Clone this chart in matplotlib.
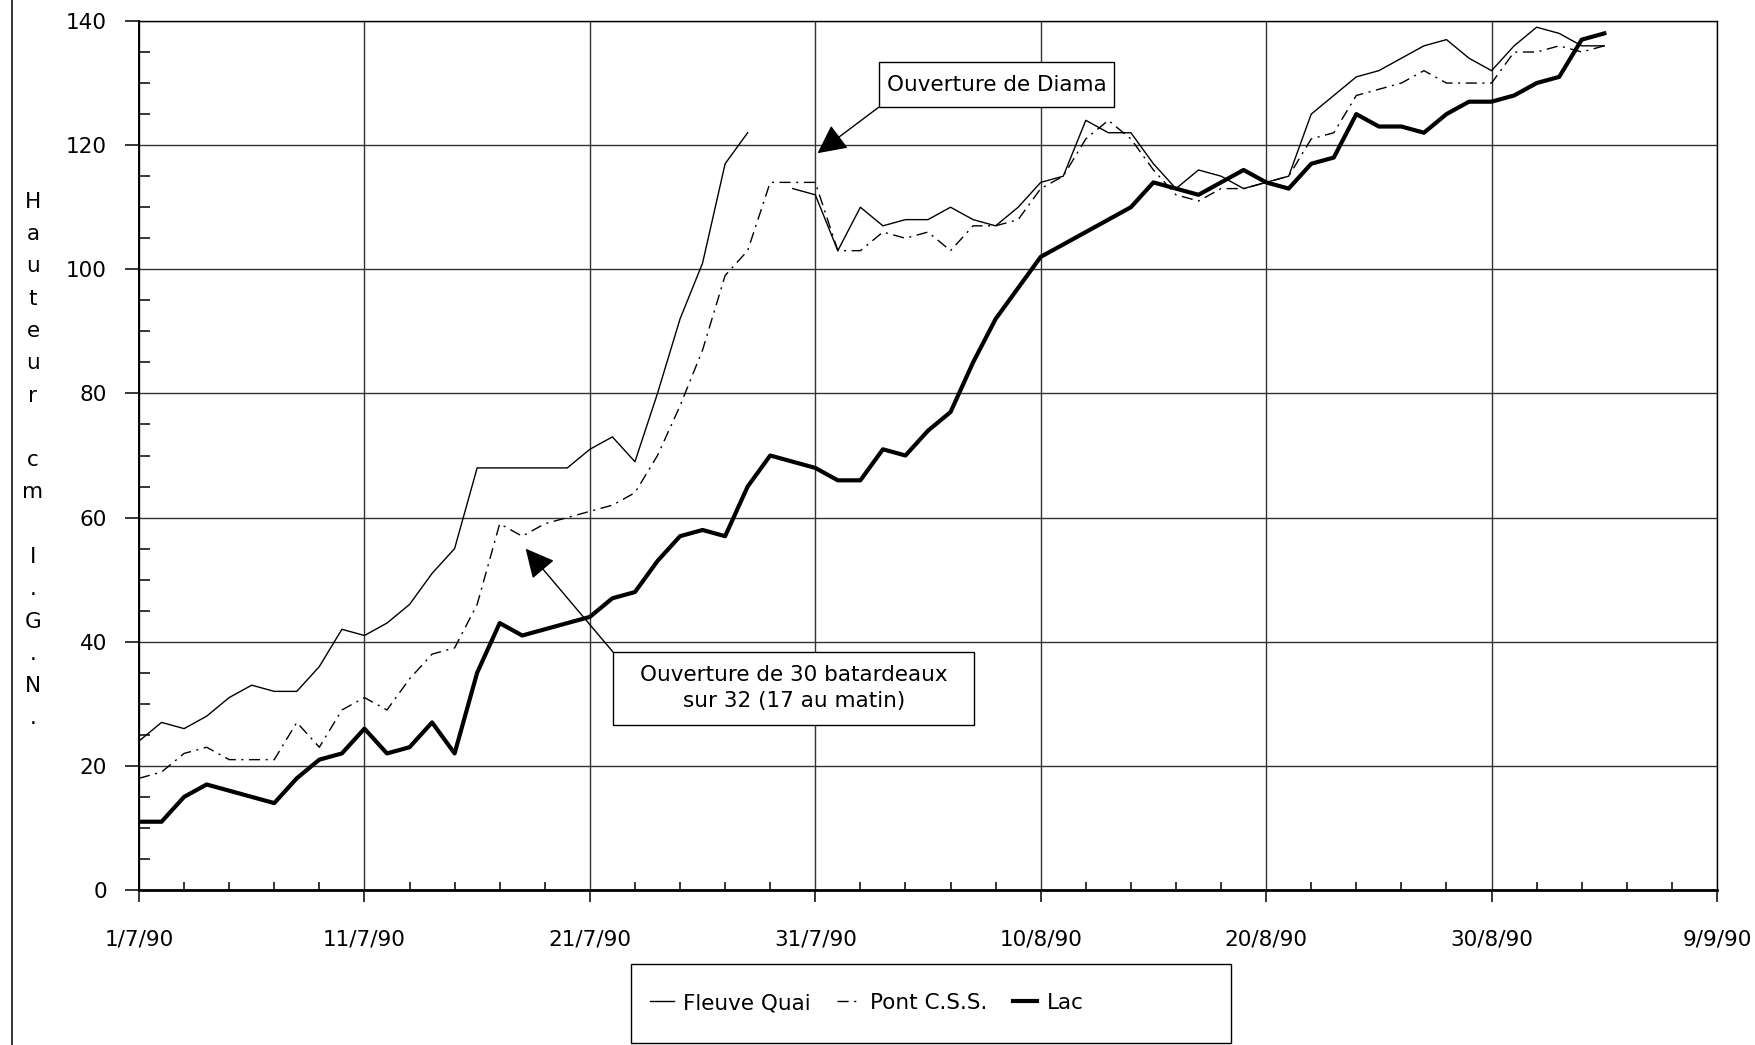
import numpy as np
import matplotlib
matplotlib.use("Agg")
import matplotlib.pyplot as plt
from matplotlib.lines import Line2D
from matplotlib.patches import Rectangle
from matplotlib.ticker import MultipleLocator, FixedLocator

# Daily water heights (cm I.G.N.) from 1/7/90, one value per day
fleuve_quai = [24, 27, 26, 28, 31, 33, 32, 32, 36, 42,
               41, 43, 46, 51, 55, 68, 68, 68, 68, 68,
               71, 73, 69, 80, 92, 101, 117, 122, np.nan, 113,
               112, 103, 110, 107, 108, 108, 110, 108, 107, 110,
               114, 115, 124, 122, 122, 117, 113, 116, 115, 113,
               114, 115, 125, 128, 131, 132, 134, 136, 137, 134,
               132, 136, 139, 138, 136, 136]
pont_css = [18, 19, 22, 23, 21, 21, 21, 27, 23, 29,
            31, 29, 34, 38, 39, 46, 59, 57, 59, 60,
            61, 62, 64, 70, 78, 87, 99, 103, 114, 114,
            114, 103, 103, 106, 105, 106, 103, 107, 107, 108,
            113, 115, 121, 124, 121, 116, 112, 111, 113, 113,
            114, 115, 121, 122, 128, 129, 130, 132, 130, 130,
            130, 135, 135, 136, 135, 136]
lac = [11, 11, 15, 17, 16, 15, 14, 18, 21, 22,
       26, 22, 23, 27, 22, 35, 43, 41, 42, 43,
       44, 47, 48, 53, 57, 58, 57, 65, 70, 69,
       68, 66, 66, 71, 70, 74, 77, 85, 92, 97,
       102, 104, 106, 108, 110, 114, 113, 112, 114, 116,
       114, 113, 117, 118, 125, 123, 123, 122, 125, 127,
       127, 128, 130, 131, 137, 138]

series_names = ["Fleuve Quai", "Pont C.S.S.", "Lac"]
tick_days = [0, 10, 20, 30, 40, 50, 60, 70]
tick_labels = ["1/7/90", "11/7/90", "21/7/90", "31/7/90",
               "10/8/90", "20/8/90", "30/8/90", "9/9/90"]
ylabel_chars = ["H", "a", "u", "t", "e", "u", "r", "", "c", "m", "",
                "I", ".", "G", ".", "N", "."]

W, H = 1756, 1045
FS = 15.5


def fx(px):
    return px / W


def fy(py):
    return 1 - py / H


plt.rcParams["font.family"] = ["DejaVu Sans"]

fig = plt.figure(figsize=(W / 100, H / 100), dpi=100)
fig.patch.set_facecolor("white")
ax = fig.add_axes([fx(139), fy(890), fx(1717) - fx(139), fy(21) - fy(890)])

days = np.arange(len(lac))
l1, = ax.plot(days, fleuve_quai, color="black", lw=1.0, label=series_names[0], zorder=3)
l2, = ax.plot(days, pont_css, color="black", lw=1.0, dashes=(8, 4, 1.5, 4),
              label=series_names[1], zorder=3)
l3, = ax.plot(days, lac, color="black", lw=3.0, label=series_names[2], zorder=4)

ax.set_xlim(0, 70)
ax.set_ylim(0, 140)
ax.xaxis.set_major_locator(FixedLocator(tick_days))
ax.set_xticklabels(tick_labels)
ax.xaxis.set_minor_locator(FixedLocator(list(range(0, 71, 2))))
ax.yaxis.set_major_locator(MultipleLocator(20))
ax.yaxis.set_minor_locator(MultipleLocator(5))

ax.tick_params(axis="x", which="major", direction="out", length=8.6, width=1.1,
               pad=20, labelsize=FS)
ax.tick_params(axis="x", which="minor", direction="in", length=6, width=1.1)
ax.tick_params(axis="y", which="major", direction="out", length=10, width=1.1,
               pad=13, labelsize=FS)
ax.tick_params(axis="y", which="minor", direction="in", length=8, width=1.1)

ax.set_axisbelow(True)
ax.grid(which="major", color="#333333", lw=1.0)
for side in ["top", "right"]:
    ax.spines[side].set_linewidth(1.0)
ax.spines["left"].set_linewidth(1.4)
ax.spines["bottom"].set_linewidth(2.0)

# Stacked vertical axis title
y0, step = 201.7, 32.3
for i, ch in enumerate(ylabel_chars):
    if ch:
        fig.text(fx(33), fy(y0 + i * step), ch, ha="center", va="center", fontsize=FS)

# Left border of the page
fig.add_artist(Line2D([fx(12), fx(12)], [0, 1], transform=fig.transFigure,
                      color="black", lw=1.1))

# Annotation: opening of Diama
fig.add_artist(Rectangle((fx(879), fy(107)), fx(1114) - fx(879), fy(62) - fy(107),
                         transform=fig.transFigure, fill=True, fc="white",
                         ec="black", lw=1.0, zorder=5))
fig.text(fx(996.5), fy(85), "Ouverture de Diama", ha="center", va="center",
         fontsize=FS, zorder=6)
ax.annotate("", xy=(30.1, 118.7), xycoords="data",
            xytext=(fx(879), fy(107)), textcoords="figure fraction",
            arrowprops=dict(arrowstyle="-|>,head_length=0.4,head_width=0.2",
                            mutation_scale=45, color="black", lw=1.0,
                            shrinkA=0, shrinkB=0), zorder=6)

# Annotation: opening of the cofferdams
fig.add_artist(Rectangle((fx(613), fy(725)), fx(974) - fx(613), fy(652) - fy(725),
                         transform=fig.transFigure, fill=True, fc="white",
                         ec="black", lw=1.0, zorder=5))
fig.text(fx(794), fy(688), "Ouverture de 30 batardeaux\nsur 32 (17 au matin)",
         ha="center", va="center", fontsize=FS, linespacing=1.35, zorder=6)
ax.annotate("", xy=(17.15, 55.0), xycoords="data",
            xytext=(fx(613), fy(652)), textcoords="figure fraction",
            arrowprops=dict(arrowstyle="-|>,head_length=0.4,head_width=0.2",
                            mutation_scale=45, color="black", lw=1.0,
                            shrinkA=0, shrinkB=0), zorder=6)

# Legend with its framed box below the axis
fig.add_artist(Rectangle((fx(631), fy(1043)), fx(1231) - fx(631), fy(964) - fy(1043),
                         transform=fig.transFigure, fill=False, ec="black", lw=1.0))
fig.legend([l1, l2, l3], series_names, loc="center left",
           bbox_to_anchor=(fx(650), fy(1003)), ncol=3, frameon=False,
           fontsize=FS, handlelength=1.1, handletextpad=0.45, columnspacing=1.2,
           borderpad=0, borderaxespad=0)

fig.savefig("out.png", dpi=100, facecolor="white")
